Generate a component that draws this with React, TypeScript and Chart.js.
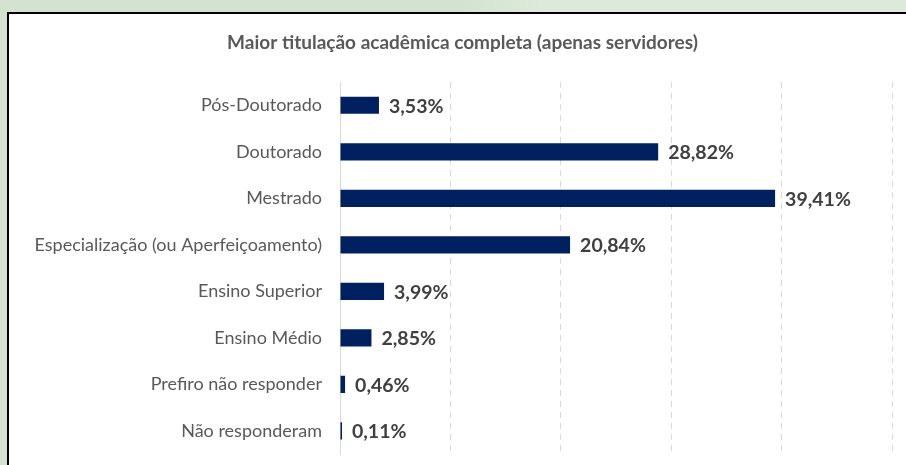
import React, { useEffect, useRef } from "react";
import { Chart, registerables } from "chart.js";

Chart.register(...registerables);

const title = "Maior titulação acadêmica completa (apenas servidores)";
const categories = [
  "Pós-Doutorado",
  "Doutorado",
  "Mestrado",
  "Especialização (ou Aperfeiçoamento)",
  "Ensino Superior",
  "Ensino Médio",
  "Prefiro não responder",
  "Não responderam",
];
const values = [3.53, 28.82, 39.41, 20.84, 3.99, 2.85, 0.46, 0.11];
const xMax = 50;
const xStep = 10;

const FONT = "Lato, 'Open Sans', sans-serif";

const titlePlugin = {
  id: "centeredTitle",
  afterDraw(chart: any) {
    const ctx = chart.ctx;
    ctx.save();
    ctx.font = `bold 19px ${FONT}`;
    ctx.fillStyle = "#595959";
    ctx.textAlign = "center";
    ctx.textBaseline = "middle";
    ctx.fillText(title, 453.5, 28.5);
    ctx.restore();
  },
};

const labelPlugin = {
  id: "barLabels",
  afterDatasetsDraw(chart: any) {
    const ctx = chart.ctx;
    const meta = chart.getDatasetMeta(0);
    ctx.save();
    ctx.font = `bold 19.5px ${FONT}`;
    ctx.fillStyle = "#404040";
    ctx.textBaseline = "middle";
    ctx.textAlign = "left";
    meta.data.forEach((bar: any, i: number) => {
      const text = values[i].toFixed(2).replace(".", ",") + "%";
      ctx.fillText(text, bar.x + 10, bar.y + 1);
    });
    ctx.restore();
  },
};

export default function App() {
  const ref = useRef<HTMLCanvasElement>(null);
  useEffect(() => {
    if (!ref.current) return;
    const chart = new Chart(ref.current, {
      type: "bar",
      data: {
        labels: categories,
        datasets: [
          {
            data: values,
            backgroundColor: "#002060",
            borderWidth: 0,
            categoryPercentage: 1,
            barPercentage: 0.37,
            minBarLength: 2,
          },
        ],
      },
      options: {
        indexAxis: "y",
        responsive: false,
        animation: false,
        devicePixelRatio: 1,
        layout: { padding: { left: 0, right: 14, top: 68, bottom: 10 } },
        plugins: {
          legend: { display: false },
          tooltip: { enabled: false },
          title: { display: false },
        },
        scales: {
          x: {
            min: 0,
            max: xMax,
            ticks: { display: false, stepSize: xStep },
            grid: { color: "#d9d9d9", drawTicks: false, lineWidth: 1 },
            border: { display: false, dash: [6, 5] },
            afterFit: (s: any) => {
              s.height = 0;
            },
          },
          y: {
            grid: { display: false, drawTicks: true, tickLength: 18 },
            border: { display: true, color: "#d9d9d9", width: 1 },
            ticks: {
              color: "#595959",
              font: { family: FONT, size: 18 },
              padding: 0,
            },
            afterFit: (s: any) => {
              s.width = 331;
            },
          },
        },
      },
      plugins: [labelPlugin, titlePlugin],
    });
    return () => chart.destroy();
  }, []);

  return (
    <div
      style={{
        position: "fixed",
        left: 0,
        top: 0,
        width: 906,
        height: 465,
        overflow: "hidden",
        background: "linear-gradient(90deg, #d3e3cf 0%, #d3e3cf 50%, #dde9da 60%, #dde9da 100%)",
      }}
    >
      <div
        style={{
          position: "absolute",
          left: 7,
          top: 12,
          width: 920,
          height: 470,
          border: "2px solid #000",
          background: "#fff",
        }}
      >
        <canvas
          ref={ref}
          width={897}
          height={451}
          style={{ position: "absolute", left: 0, top: 0, width: 897, height: 451 }}
        />
      </div>
    </div>
  );
}
